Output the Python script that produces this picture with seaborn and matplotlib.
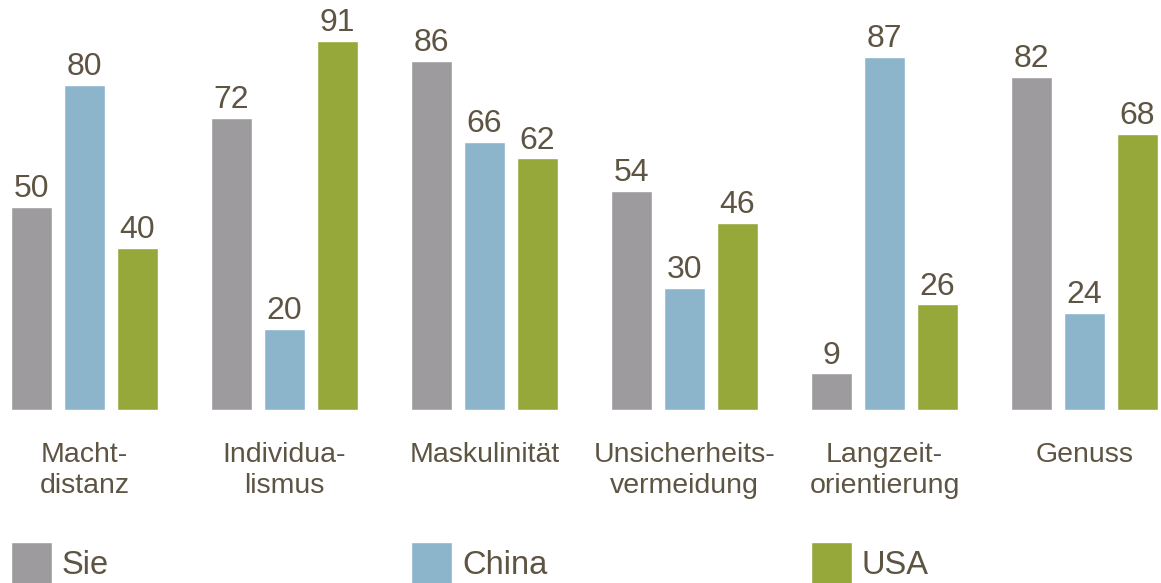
import pandas as pd
import matplotlib.pyplot as plt
import seaborn as sns

# Daten
kategorien = ['Macht-\ndistanz', 'Individua-\nlismus', 'Maskulinität',
              'Unsicherheits-\nvermeidung', 'Langzeit-\norientierung', 'Genuss']
gruppen = ['Sie', 'China', 'USA']
werte_sie = [50, 72, 86, 54, 9, 82]
werte_china = [80, 20, 66, 30, 87, 24]
werte_usa = [40, 91, 62, 46, 26, 68]

farben = ['#9D9B9E', '#8CB4CB', '#96A83A']
TEXTFARBE = '#5E5443'

df = pd.DataFrame({
    'Kategorie': kategorien * 3,
    'Gruppe': [g for g in gruppen for _ in kategorien],
    'Wert': werte_sie + werte_china + werte_usa,
})

sns.set_theme(style='white')
plt.rcParams['font.family'] = ['Liberation Sans', 'DejaVu Sans']

fig = plt.figure(figsize=(11.61, 5.83), dpi=100)
ax = fig.add_axes([0, (583 - 410) / 583, 1, 410 / 583])

sns.barplot(data=df, x='Kategorie', y='Wert', hue='Gruppe', order=kategorien,
            hue_order=gruppen, palette=farben, width=0.795, gap=0.2264,
            saturation=1, ax=ax)

handles, labels = ax.get_legend_handles_labels()
if ax.get_legend() is not None:
    ax.get_legend().remove()

# Werte über den Balken
for cont in ax.containers:
    ax.bar_label(cont, fmt='%d', padding=2, fontsize=23, color=TEXTFARBE)

ax.set_xlim(-0.4225, 5.3825)
ax.set_ylim(0, 101)
ax.set_xlabel('')
ax.set_ylabel('')
ax.set_yticks([])
ax.tick_params(axis='x', length=0, pad=23, labelsize=20.5, labelcolor=TEXTFARBE)
for lbl in ax.get_xticklabels():
    lbl.set_linespacing(1.25)
sns.despine(ax=ax, left=True, bottom=True)

# Legende: drei einzelne Einträge
for i, (h, l) in enumerate(zip(handles, labels)):
    fig.legend([h], [l], loc='lower left',
               bbox_to_anchor=((11 + 400 * i) / 1161, -0.0017),
               frameon=False, fontsize=23.5, labelcolor=TEXTFARBE,
               handlelength=1.26, handleheight=1.6, handletextpad=0.3,
               borderpad=0, borderaxespad=0)

plt.savefig('out.png', dpi=100)
plt.close()
